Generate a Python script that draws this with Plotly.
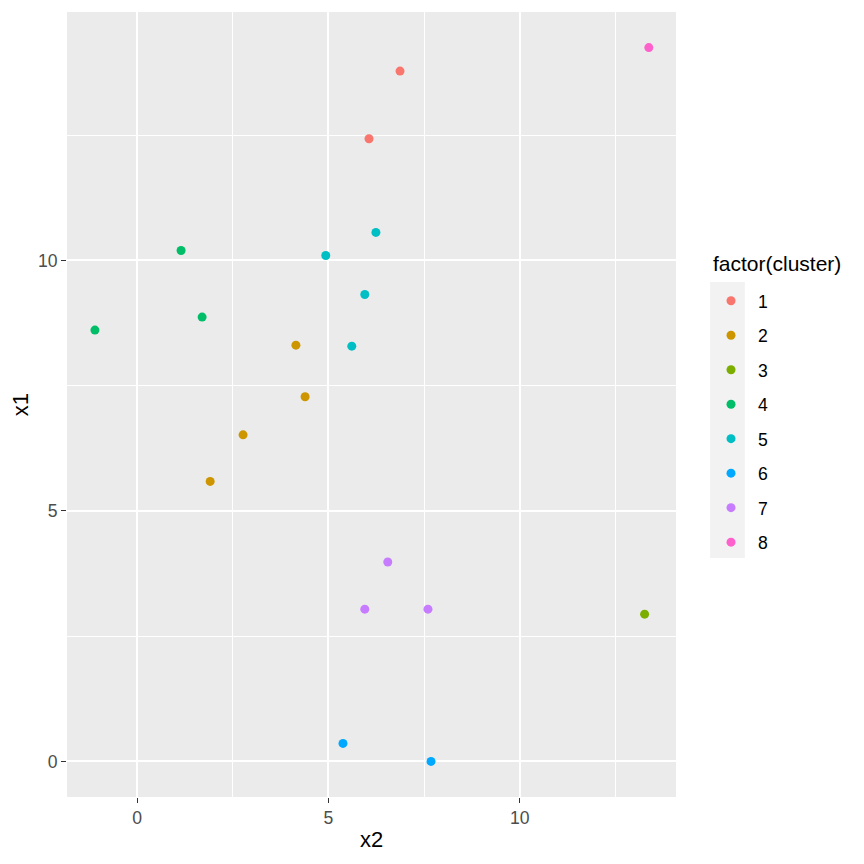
import plotly.graph_objects as go

# points, one list per cluster
cluster = ["1", "1", "2", "2", "2", "2", "3", "4", "4", "4",
           "5", "5", "5", "5", "6", "6", "7", "7", "7", "8"]
x2 = [6.87, 6.06, 4.15, 4.39, 2.77, 1.91, 13.26, 1.15, -1.10, 1.70,
      6.24, 4.93, 5.95, 5.61, 5.38, 7.68, 6.55, 5.95, 7.60, 13.37]
x1 = [13.78, 12.43, 8.31, 7.28, 6.52, 5.59, 2.94, 10.20, 8.61, 8.87,
      10.56, 10.10, 9.32, 8.29, 0.36, 0.00, 3.98, 3.04, 3.04, 14.25]

levels = ["1", "2", "3", "4", "5", "6", "7", "8"]
colors = ["#F8766D", "#CD9600", "#7CAE00", "#00BE67",
          "#00BFC4", "#00A9FF", "#C77CFF", "#FF61CC"]

fig = go.Figure()
for lv, col in zip(levels, colors):
    xs = [a for a, c in zip(x2, cluster) if c == lv]
    ys = [b for b, c in zip(x1, cluster) if c == lv]
    fig.add_trace(go.Scatter(x=xs, y=ys, mode="markers", name=lv,
                             legendgroup=lv,
                             marker=dict(color=col, size=9, line=dict(width=0))))

# grey key background like ggplot's legend keys
fig.add_shape(type="rect", xref="paper", yref="paper",
              x0=1.056, x1=1.113, y0=0.3045, y1=0.656,
              fillcolor="#f2f2f2", line=dict(width=0), layer="below")

# legend title drawn separately so the gap to the keys matches
fig.add_annotation(text="factor(cluster)", xref="paper", yref="paper",
                   x=1.057, y=0.680, xanchor="left", yanchor="middle",
                   showarrow=False, font=dict(size=21, color="black"))

axis_common = dict(
    showgrid=True, gridcolor="white", gridwidth=1.7,
    zeroline=False, showline=False,
    ticks="outside", ticklen=5, tickcolor="#333333", tickwidth=1.2,
    tickfont=dict(size=17.6, color="#4d4d4d"),
    minor=dict(dtick=2.5, showgrid=True, gridcolor="white", gridwidth=0.85, ticks=""),
    dtick=5,
)

# page body adds 8px, so the figure is 856 and margins shifted by 8
fig.update_layout(
    width=856, height=856,
    plot_bgcolor="#ebebeb", paper_bgcolor="white",
    font=dict(family="Liberation Sans, Arial, sans-serif", color="black"),
    margin=dict(l=59, r=188, t=4, b=67),
    xaxis=dict(range=[-1.83, 14.08], tick0=0,
               title=dict(text="x2", font=dict(size=22), standoff=4), **axis_common),
    yaxis=dict(range=[-0.71, 14.96], tick0=0,
               title=dict(text="x1", font=dict(size=22), standoff=10), **axis_common),
    showlegend=True,
    legend=dict(x=1.046, y=0.655, xanchor="left", yanchor="top",
                font=dict(size=17.6), tracegroupgap=8.6,
                itemwidth=44, bgcolor="rgba(0,0,0,0)"),
)

fig.write_html("out.html")
